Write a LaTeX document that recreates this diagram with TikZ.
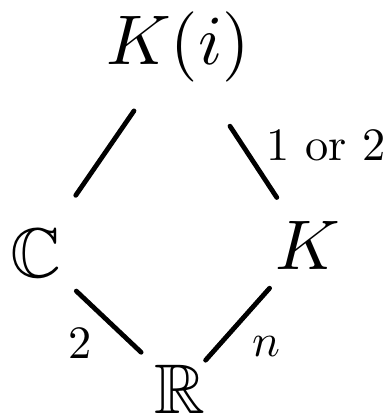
\documentclass[tikz,border=0pt]{standalone}
\usepackage{amsmath, amssymb}
\usetikzlibrary{calc}

\begin{document}
\begin{tikzpicture}[
    field/.style={inner sep=0pt, scale=5},
    deg/.style={inner sep=0pt, scale=3.3},
    edge/.style={line width=3.4pt, line cap=round}
  ]
  \useasboundingbox (0,0) rectangle (9.625,10.425);

  % Fields
  \node[field] (Ki) at (4.45,9.25) {$K(i)$};
  \node[field] (C) at (0.9,4.1) {$\mathbb{C}$};
  \node[field] (K) at (7.7,4.3) {$K$};
  \node[field] (R) at (4.5,0.7) {$\mathbb{R}$};

  % Extensions
  \draw[edge] ($(Ki)!0.31!(C)$) -- ($(Ki)!0.72!(C)$);
  \draw[edge] ($(Ki)!0.40!(K)$) -- ($(Ki)!0.76!(K)$);
  \draw[edge] ($(C)!0.28!(R)$) -- ($(C)!0.73!(R)$);
  \draw[edge] ($(K)!0.30!(R)$) -- ($(K)!0.80!(R)$);

  % Degrees
  \node[deg] (d1) at (8.15,6.8) {1 or 2};
  \node[deg] (d2) at (2.0,1.85) {2};
  \node[deg] (dn) at (6.65,1.75) {$n$};
\end{tikzpicture}
\end{document}
